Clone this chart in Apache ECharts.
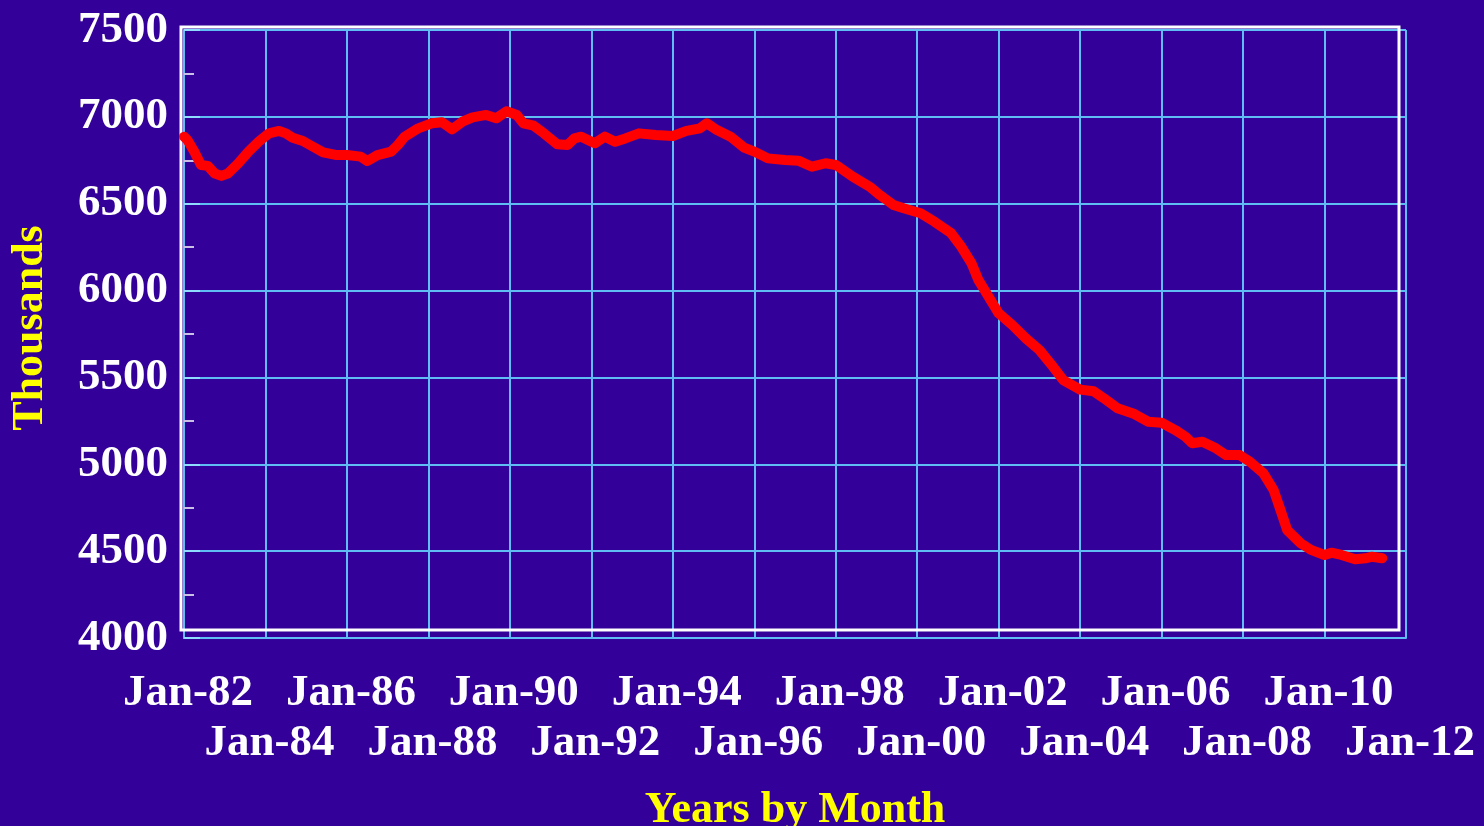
<!DOCTYPE html>
<html>
<head>
<meta charset="utf-8">
<script src="https://cdn.jsdelivr.net/npm/echarts@6/dist/echarts.min.js"></script>
<style>
html,body{margin:0;padding:0;background:#330099;}
#chart{width:1484px;height:826px;}
</style>
</head>
<body>
<div id="chart"></div>
<script>
// Monthly readings (YYYY-MM) and values in thousands
const months = ['1982-01','1982-02','1982-04','1982-06','1982-08','1982-10','1982-12',
'1983-02','1983-05','1983-08','1983-11','1984-02','1984-05','1984-07','1984-09','1984-12',
'1985-03','1985-06','1985-10','1986-01','1986-05','1986-07','1986-10','1987-02','1987-04',
'1987-06','1987-10','1988-02','1988-05','1988-08','1988-11','1989-02','1989-06','1989-09',
'1989-12','1990-03','1990-05','1990-08','1990-11','1991-03','1991-06','1991-08','1991-10',
'1992-02','1992-05','1992-08','1992-11','1993-03','1993-08','1994-01','1994-05','1994-09',
'1994-11','1995-02','1995-06','1995-10','1996-01','1996-05','1996-10','1997-02','1997-06',
'1997-10','1998-01','1998-06','1998-11','1999-02','1999-06','1999-09','2000-02','2000-06',
'2000-11','2001-02','2001-05','2001-07','2001-10','2002-01','2002-05','2002-09','2003-01',
'2003-05','2003-08','2004-01','2004-05','2004-08','2004-12','2005-05','2005-09','2006-01',
'2006-05','2006-08','2006-10','2007-01','2007-05','2007-08','2007-12','2008-03','2008-07',
'2008-10','2008-12','2009-02','2009-06','2009-09','2010-01','2010-03','2010-06','2010-10',
'2011-01','2011-03','2011-06'];
const values = [6886,6867,6800,6723,6718,6675,6660,
6675,6733,6800,6857,6905,6919,6905,6880,6861,
6828,6796,6780,6780,6771,6746,6780,6800,6838,
6886,6934,6963,6969,6928,6972,6997,7011,6992,
7032,7011,6963,6949,6905,6842,6838,6876,6886,
6848,6886,6857,6876,6905,6895,6890,6919,6934,
6963,6924,6886,6823,6800,6761,6752,6748,6713,
6733,6723,6656,6598,6550,6493,6474,6445,6397,
6330,6252,6157,6061,5965,5869,5802,5725,5658,
5562,5485,5430,5420,5380,5322,5289,5245,5239,
5197,5159,5121,5130,5092,5053,5053,5015,4948,
4852,4737,4621,4545,4507,4478,4491,4478,4453,
4459,4468,4459];
const yTicks = [4000,4500,5000,5500,6000,6500,7000,7500];
const xStartYear = 1982, xEndYear = 2012, xStepYears = 2;

const seriesData = months.map((m, i) => {
  const [y, mo] = m.split('-').map(Number);
  return [y + (mo - 1) / 12, values[i]];
});

const FONT = "'Liberation Serif','Times New Roman',serif";
const CYAN = '#5fbdf3';

function xLabel(v) {
  return 'Jan-' + String(Math.round(v) % 100).padStart(2, '0');
}
function rowOf(v) {
  return Math.round((v - xStartYear) / xStepYears) % 2;
}
const labelStyle = {
  color: '#ffffff', fontFamily: FONT, fontWeight: 'bold', fontSize: 45,
  padding: [0, 0, 0, 8], interval: 0, showMinLabel: true, showMaxLabel: true, hideOverlap: false
};

const chart = echarts.init(document.getElementById('chart'));
chart.setOption({
  backgroundColor: '#330099',
  animation: false,
  grid: [
    {left: 184, top: 30, width: 1222, height: 608, containLabel: false, outerBoundsMode: 'none'},
    {left: 181, top: 27, width: 1218, height: 603, show: true, borderColor: '#ffffff', borderWidth: 3, backgroundColor: 'transparent', z: 1, containLabel: false, outerBoundsMode: 'none'}
  ],
  xAxis: [{
    type: 'value',
    gridIndex: 0,
    position: 'bottom',
    min: xStartYear, max: xEndYear, interval: xStepYears,
    name: 'Years by Month',
    nameLocation: 'middle',
    nameGap: 151,
    nameTextStyle: {color: '#ffff00', fontFamily: FONT, fontWeight: 'bold', fontSize: 44},
    axisLine: {show: true, lineStyle: {color: CYAN, width: 2}},
    axisTick: {show: false},
    splitLine: {show: true, lineStyle: {color: CYAN, width: 2}},
    axisLabel: Object.assign({}, labelStyle, {
      margin: 33,
      formatter: v => rowOf(v) === 0 ? xLabel(v) : ''
    })
  }, {
    type: 'value', gridIndex: 1, show: false, min: 0, max: 1
  }, {
    type: 'value',
    gridIndex: 0,
    position: 'bottom',
    min: xStartYear, max: xEndYear, interval: xStepYears,
    axisLine: {show: false},
    axisTick: {show: false},
    splitLine: {show: false},
    axisLabel: Object.assign({}, labelStyle, {
      margin: 83,
      formatter: v => rowOf(v) === 1 ? xLabel(v) : ''
    })
  }],
  yAxis: [{
    type: 'value',
    gridIndex: 0,
    min: yTicks[0], max: yTicks[yTicks.length - 1], interval: 500,
    name: 'Thousands',
    nameLocation: 'middle',
    nameGap: 131,
    nameRotate: 90,
    nameTextStyle: {color: '#ffff00', fontFamily: FONT, fontWeight: 'bold', fontSize: 44, padding: [0, 0, 0, 12]},
    axisLine: {show: true, lineStyle: {color: CYAN, width: 2}},
    axisTick: {show: true, inside: true, length: 16, lineStyle: {color: '#8fdcff', width: 2}},
    minorTick: {show: true, splitNumber: 2, length: 10, lineStyle: {color: '#c9c0e6', width: 2}},
    splitLine: {show: true, lineStyle: {color: CYAN, width: 2}},
    axisLabel: {
      margin: 16,
      color: '#ffffff', fontFamily: FONT, fontWeight: 'bold', fontSize: 45,
      formatter: v => String(v)
    }
  }, {
    type: 'value', gridIndex: 1, show: false, min: 0, max: 1
  }],
  series: [{
    type: 'line',
    xAxisIndex: 0, yAxisIndex: 0,
    data: seriesData,
    showSymbol: false,
    smooth: false,
    z: 5,
    lineStyle: {color: '#ff0000', width: 10, join: 'round', cap: 'round'}
  }]
});
</script>
</body>
</html>
